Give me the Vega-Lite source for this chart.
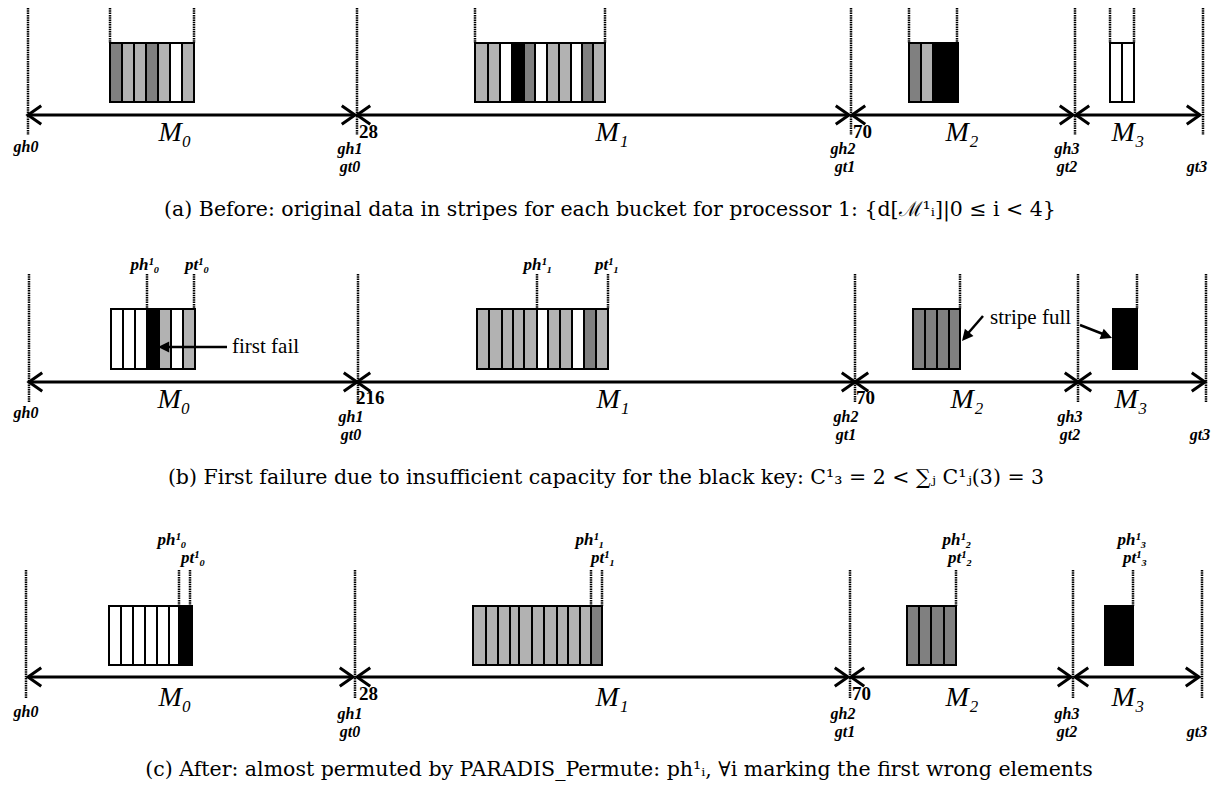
{
"$schema": "https://vega.github.io/schema/vega-lite/v6.json",
"width": 1216, "height": 789,
"autosize": {"type": "fit", "contains": "padding"},
"padding": 0,
"background": "white",
"config": {"view": {"stroke": null}},
"datasets": {
"vr": [
{"x":28,"y":8,"y2":135},{"x":110,"y":8,"y2":43},{"x":194,"y":8,"y2":43},{"x":357,"y":8,"y2":135},{"x":475,"y":8,"y2":43},{"x":605,"y":8,"y2":43},{"x":851,"y":8,"y2":135},{"x":909,"y":8,"y2":43},{"x":957,"y":8,"y2":43},{"x":1075,"y":8,"y2":135},{"x":1110,"y":8,"y2":43},{"x":1134,"y":8,"y2":43},{"x":1203,"y":8,"y2":135},
{"x":29,"y":274,"y2":402},{"x":147,"y":274,"y2":309},{"x":194,"y":274,"y2":309},{"x":358,"y":274,"y2":402},{"x":537,"y":274,"y2":309},{"x":608,"y":274,"y2":309},{"x":855,"y":274,"y2":402},{"x":960,"y":274,"y2":309},{"x":1078,"y":274,"y2":402},{"x":1137,"y":274,"y2":309},{"x":1206,"y":274,"y2":402},
{"x":26,"y":570,"y2":698},{"x":179,"y":570,"y2":606},{"x":190,"y":570,"y2":606},{"x":355,"y":570,"y2":698},{"x":591,"y":570,"y2":606},{"x":602,"y":570,"y2":606},{"x":850,"y":570,"y2":698},{"x":956,"y":570,"y2":606},{"x":1073,"y":570,"y2":698},{"x":1133,"y":570,"y2":606},{"x":1202,"y":570,"y2":698}
],
"st": [
{"x":110,"x2":122,"y":43,"y2":102,"k":"dk"},{"x":122,"x2":134,"y":43,"y2":102,"k":"lt"},{"x":134,"x2":146,"y":43,"y2":102,"k":"lt"},{"x":146,"x2":158,"y":43,"y2":102,"k":"dk"},{"x":158,"x2":170,"y":43,"y2":102,"k":"lt"},{"x":170,"x2":182,"y":43,"y2":102,"k":"wh"},{"x":182,"x2":194,"y":43,"y2":102,"k":"lt"},
{"x":475,"x2":488,"y":43,"y2":102,"k":"lt"},{"x":488,"x2":500,"y":43,"y2":102,"k":"lt"},{"x":500,"x2":512,"y":43,"y2":102,"k":"wh"},{"x":512,"x2":524,"y":43,"y2":102,"k":"bk"},{"x":524,"x2":535,"y":43,"y2":102,"k":"dk"},{"x":535,"x2":547,"y":43,"y2":102,"k":"wh"},{"x":547,"x2":559,"y":43,"y2":102,"k":"lt"},{"x":559,"x2":571,"y":43,"y2":102,"k":"lt"},{"x":571,"x2":582,"y":43,"y2":102,"k":"wh"},{"x":582,"x2":593,"y":43,"y2":102,"k":"dk"},{"x":593,"x2":605,"y":43,"y2":102,"k":"lt"},
{"x":909,"x2":921,"y":43,"y2":102,"k":"dk"},{"x":921,"x2":933,"y":43,"y2":102,"k":"lt"},{"x":933,"x2":945,"y":43,"y2":102,"k":"bk"},{"x":945,"x2":958,"y":43,"y2":102,"k":"bk"},
{"x":1110,"x2":1122,"y":43,"y2":102,"k":"wh"},{"x":1122,"x2":1134,"y":43,"y2":102,"k":"wh"},
{"x":111,"x2":123,"y":309,"y2":369,"k":"wh"},{"x":123,"x2":135,"y":309,"y2":369,"k":"wh"},{"x":135,"x2":147,"y":309,"y2":369,"k":"wh"},{"x":147,"x2":159,"y":309,"y2":369,"k":"bk"},{"x":159,"x2":171,"y":309,"y2":369,"k":"lt"},{"x":171,"x2":183,"y":309,"y2":369,"k":"wh"},{"x":183,"x2":195,"y":309,"y2":369,"k":"lt"},
{"x":477,"x2":489,"y":309,"y2":369,"k":"lt"},{"x":489,"x2":502,"y":309,"y2":369,"k":"lt"},{"x":502,"x2":513,"y":309,"y2":369,"k":"lt"},{"x":513,"x2":524,"y":309,"y2":369,"k":"lt"},{"x":524,"x2":537,"y":309,"y2":369,"k":"lt"},{"x":537,"x2":548,"y":309,"y2":369,"k":"wh"},{"x":548,"x2":560,"y":309,"y2":369,"k":"lt"},{"x":560,"x2":572,"y":309,"y2":369,"k":"lt"},{"x":572,"x2":584,"y":309,"y2":369,"k":"wh"},{"x":584,"x2":596,"y":309,"y2":369,"k":"dk"},{"x":596,"x2":608,"y":309,"y2":369,"k":"lt"},
{"x":913,"x2":925,"y":309,"y2":369,"k":"dk"},{"x":925,"x2":937,"y":309,"y2":369,"k":"dk"},{"x":937,"x2":949,"y":309,"y2":369,"k":"dk"},{"x":949,"x2":960,"y":309,"y2":369,"k":"dk"},
{"x":1113,"x2":1125,"y":309,"y2":369,"k":"bk"},{"x":1125,"x2":1137,"y":309,"y2":369,"k":"bk"},
{"x":109,"x2":121,"y":606,"y2":665,"k":"wh"},{"x":121,"x2":133,"y":606,"y2":665,"k":"wh"},{"x":133,"x2":145,"y":606,"y2":665,"k":"wh"},{"x":145,"x2":157,"y":606,"y2":665,"k":"wh"},{"x":157,"x2":169,"y":606,"y2":665,"k":"wh"},{"x":169,"x2":179,"y":606,"y2":665,"k":"wh"},{"x":179,"x2":192,"y":606,"y2":665,"k":"bk"},
{"x":473,"x2":486,"y":606,"y2":665,"k":"lt"},{"x":486,"x2":498,"y":606,"y2":665,"k":"lt"},{"x":498,"x2":510,"y":606,"y2":665,"k":"lt"},{"x":510,"x2":519,"y":606,"y2":665,"k":"lt"},{"x":519,"x2":532,"y":606,"y2":665,"k":"lt"},{"x":532,"x2":544,"y":606,"y2":665,"k":"lt"},{"x":544,"x2":557,"y":606,"y2":665,"k":"lt"},{"x":557,"x2":568,"y":606,"y2":665,"k":"lt"},{"x":568,"x2":580,"y":606,"y2":665,"k":"lt"},{"x":580,"x2":591,"y":606,"y2":665,"k":"lt"},{"x":591,"x2":602,"y":606,"y2":665,"k":"dk"},
{"x":907,"x2":919,"y":606,"y2":665,"k":"dk"},{"x":919,"x2":931,"y":606,"y2":665,"k":"dk"},{"x":931,"x2":944,"y":606,"y2":665,"k":"dk"},{"x":944,"x2":956,"y":606,"y2":665,"k":"dk"},
{"x":1105,"x2":1119,"y":606,"y2":665,"k":"bk"},{"x":1119,"x2":1133,"y":606,"y2":665,"k":"bk"}
],
"sh": [
{"x":28,"x2":355,"y":115},{"x":357,"x2":849,"y":115},{"x":852,"x2":1073,"y":115},{"x":1076,"x2":1200,"y":115},
{"x":29,"x2":357,"y":382},{"x":357,"x2":855,"y":382},{"x":855,"x2":1078,"y":382},{"x":1078,"x2":1205,"y":382},
{"x":28,"x2":353,"y":677},{"x":357,"x2":848,"y":677},{"x":851,"x2":1071,"y":677},{"x":1075,"x2":1199,"y":677}
],
"hd": [
{"x":28,"y":115,"d":"L"},{"x":355,"y":115,"d":"R"},{"x":357,"y":115,"d":"L"},{"x":849,"y":115,"d":"R"},{"x":852,"y":115,"d":"L"},{"x":1073,"y":115,"d":"R"},{"x":1076,"y":115,"d":"L"},{"x":1200,"y":115,"d":"R"},
{"x":29,"y":382,"d":"L"},{"x":357,"y":382,"d":"R"},{"x":357,"y":382,"d":"L"},{"x":855,"y":382,"d":"R"},{"x":855,"y":382,"d":"L"},{"x":1078,"y":382,"d":"R"},{"x":1078,"y":382,"d":"L"},{"x":1205,"y":382,"d":"R"},
{"x":28,"y":677,"d":"L"},{"x":353,"y":677,"d":"R"},{"x":357,"y":677,"d":"L"},{"x":848,"y":677,"d":"R"},{"x":851,"y":677,"d":"L"},{"x":1071,"y":677,"d":"R"},{"x":1075,"y":677,"d":"L"},{"x":1199,"y":677,"d":"R"}
],
"an": [
{"x":227,"y":347,"x2":162,"y2":347},{"x":983,"y":316,"x2":964,"y2":338},{"x":1080,"y":325,"x2":1108,"y2":336}
],
"ah": [
{"x":158,"y":347,"a":180},{"x":962,"y":341,"a":130},{"x":1112,"y":338,"a":22}
],
"lb": [
{"x":26,"y":147,"t":"gh0","k":"g"},{"x":350,"y":149,"t":"gh1","k":"g"},{"x":350,"y":167,"t":"gt0","k":"g"},{"x":843,"y":149,"t":"gh2","k":"g"},{"x":845,"y":167,"t":"gt1","k":"g"},{"x":1067,"y":149,"t":"gh3","k":"g"},{"x":1067,"y":167,"t":"gt2","k":"g"},{"x":1197,"y":167,"t":"gt3","k":"g"},
{"x":26,"y":413,"t":"gh0","k":"g"},{"x":351,"y":417,"t":"gh1","k":"g"},{"x":351,"y":435,"t":"gt0","k":"g"},{"x":846,"y":417,"t":"gh2","k":"g"},{"x":846,"y":435,"t":"gt1","k":"g"},{"x":1070,"y":417,"t":"gh3","k":"g"},{"x":1070,"y":435,"t":"gt2","k":"g"},{"x":1200,"y":435,"t":"gt3","k":"g"},
{"x":26,"y":712,"t":"gh0","k":"g"},{"x":350,"y":714,"t":"gh1","k":"g"},{"x":350,"y":732,"t":"gt0","k":"g"},{"x":843,"y":714,"t":"gh2","k":"g"},{"x":845,"y":732,"t":"gt1","k":"g"},{"x":1067,"y":714,"t":"gh3","k":"g"},{"x":1067,"y":732,"t":"gt2","k":"g"},{"x":1197,"y":732,"t":"gt3","k":"g"},
{"x":359,"y":132,"t":"28","k":"n"},{"x":853,"y":132,"t":"70","k":"n"},{"x":356,"y":398,"t":"216","k":"n"},{"x":856,"y":398,"t":"70","k":"n"},{"x":359,"y":694,"t":"28","k":"n"},{"x":852,"y":694,"t":"70","k":"n"},
{"x":175,"y":133,"t":"M₀","k":"m"},{"x":612,"y":133,"t":"M₁","k":"m"},{"x":962,"y":133,"t":"M₂","k":"m"},{"x":1128,"y":133,"t":"M₃","k":"m"},
{"x":174,"y":400,"t":"M₀","k":"m"},{"x":613,"y":400,"t":"M₁","k":"m"},{"x":967,"y":400,"t":"M₂","k":"m"},{"x":1131,"y":400,"t":"M₃","k":"m"},
{"x":175,"y":698,"t":"M₀","k":"m"},{"x":612,"y":698,"t":"M₁","k":"m"},{"x":962,"y":698,"t":"M₂","k":"m"},{"x":1128,"y":698,"t":"M₃","k":"m"},
{"x":145,"y":265,"t":"ph¹₀","k":"p"},{"x":197,"y":265,"t":"pt¹₀","k":"p"},{"x":538,"y":265,"t":"ph¹₁","k":"p"},{"x":607,"y":265,"t":"pt¹₁","k":"p"},
{"x":172,"y":540,"t":"ph¹₀","k":"p"},{"x":193,"y":558,"t":"pt¹₀","k":"p"},{"x":590,"y":540,"t":"ph¹₁","k":"p"},{"x":603,"y":558,"t":"pt¹₁","k":"p"},{"x":957,"y":540,"t":"ph¹₂","k":"p"},{"x":960,"y":558,"t":"pt¹₂","k":"p"},{"x":1132,"y":540,"t":"ph¹₃","k":"p"},{"x":1135,"y":558,"t":"pt¹₃","k":"p"},
{"x":232,"y":347,"t":"first  fail","k":"f"},{"x":990,"y":318,"t":"stripe  full","k":"f"},
{"x":610,"y":210,"t":"(a) Before: original data in stripes for each bucket for processor 1: {d[ℳ¹ᵢ]|0 ≤ i < 4}","k":"c"},
{"x":606,"y":478,"t":"(b) First failure due to insufficient capacity for the black key: C¹₃ = 2 < ∑ⱼ C¹ⱼ(3) = 3","k":"c"},
{"x":619,"y":770,"t":"(c) After: almost permuted by PARADIS_Permute: ph¹ᵢ, ∀i marking the first wrong elements","k":"c"}
]
},
"encoding": {
"x": {"field": "x", "type": "quantitative", "scale": {"domain": [0, 1216], "nice": false, "zero": false}, "axis": null},
"y": {"field": "y", "type": "quantitative", "scale": {"domain": [0, 789], "reverse": true, "nice": false, "zero": false}, "axis": null}
},
"layer": [
{"data": {"name": "vr"}, "mark": {"type": "rule", "strokeDash": [1.5, 0.8], "strokeWidth": 2.5, "color": "black"}, "encoding": {"y2": {"field": "y2"}}},
{"data": {"name": "st"}, "mark": {"type": "rect", "stroke": "black", "strokeWidth": 2}, "encoding": {"x2": {"field": "x2"}, "y2": {"field": "y2"}, "fill": {"field": "k", "type": "nominal", "scale": {"domain": ["dk", "lt", "wh", "bk"], "range": ["#808080", "#b2b2b2", "#ffffff", "#000000"]}, "legend": null}}},
{"data": {"name": "sh"}, "mark": {"type": "rule", "strokeWidth": 3, "color": "black"}, "encoding": {"x2": {"field": "x2"}}},
{"data": {"name": "hd"}, "mark": {"type": "point", "filled": false, "stroke": "black", "strokeWidth": 3, "size": 700, "opacity": 1, "strokeJoin": "miter"}, "encoding": {"shape": {"field": "d", "type": "nominal", "scale": {"domain": ["L", "R"], "range": ["M1,-0.7L0,0L1,0.7", "M-1,-0.7L0,0L-1,0.7"]}, "legend": null}}},
{"data": {"name": "an"}, "mark": {"type": "rule", "strokeWidth": 2.5, "color": "black"}, "encoding": {"x2": {"field": "x2"}, "y2": {"field": "y2"}}},
{"data": {"name": "ah"}, "mark": {"type": "point", "filled": true, "color": "black", "size": 500, "opacity": 1, "shape": "M0,0L-1,-0.5L-1,0.5Z"}, "encoding": {"angle": {"field": "a", "type": "quantitative", "scale": null}}},
{"data": {"name": "lb"}, "transform": [{"filter": "datum.k === 'g'"}], "mark": {"type": "text", "font": "Liberation Serif", "fontWeight": "bold", "fontStyle": "italic", "fontSize": 16, "align": "center", "baseline": "middle", "color": "black"}, "encoding": {"text": {"field": "t"}}},
{"data": {"name": "lb"}, "transform": [{"filter": "datum.k === 'n'"}], "mark": {"type": "text", "font": "Liberation Serif", "fontWeight": "bold", "fontSize": 19, "align": "left", "baseline": "middle", "color": "black"}, "encoding": {"text": {"field": "t"}}},
{"data": {"name": "lb"}, "transform": [{"filter": "datum.k === 'm'"}], "mark": {"type": "text", "font": "Liberation Serif", "fontStyle": "italic", "fontSize": 28, "align": "center", "baseline": "middle", "color": "black"}, "encoding": {"text": {"field": "t"}}},
{"data": {"name": "lb"}, "transform": [{"filter": "datum.k === 'p'"}], "mark": {"type": "text", "font": "Liberation Serif", "fontWeight": "bold", "fontStyle": "italic", "fontSize": 17, "align": "center", "baseline": "middle", "color": "black"}, "encoding": {"text": {"field": "t"}}},
{"data": {"name": "lb"}, "transform": [{"filter": "datum.k === 'f'"}], "mark": {"type": "text", "font": "Liberation Serif", "fontSize": 21, "align": "left", "baseline": "middle", "color": "black"}, "encoding": {"text": {"field": "t"}}},
{"data": {"name": "lb"}, "transform": [{"filter": "datum.k === 'c'"}], "mark": {"type": "text", "font": "DejaVu Serif", "fontSize": 20.5, "align": "center", "baseline": "middle", "color": "black"}, "encoding": {"text": {"field": "t"}}}
]
}
